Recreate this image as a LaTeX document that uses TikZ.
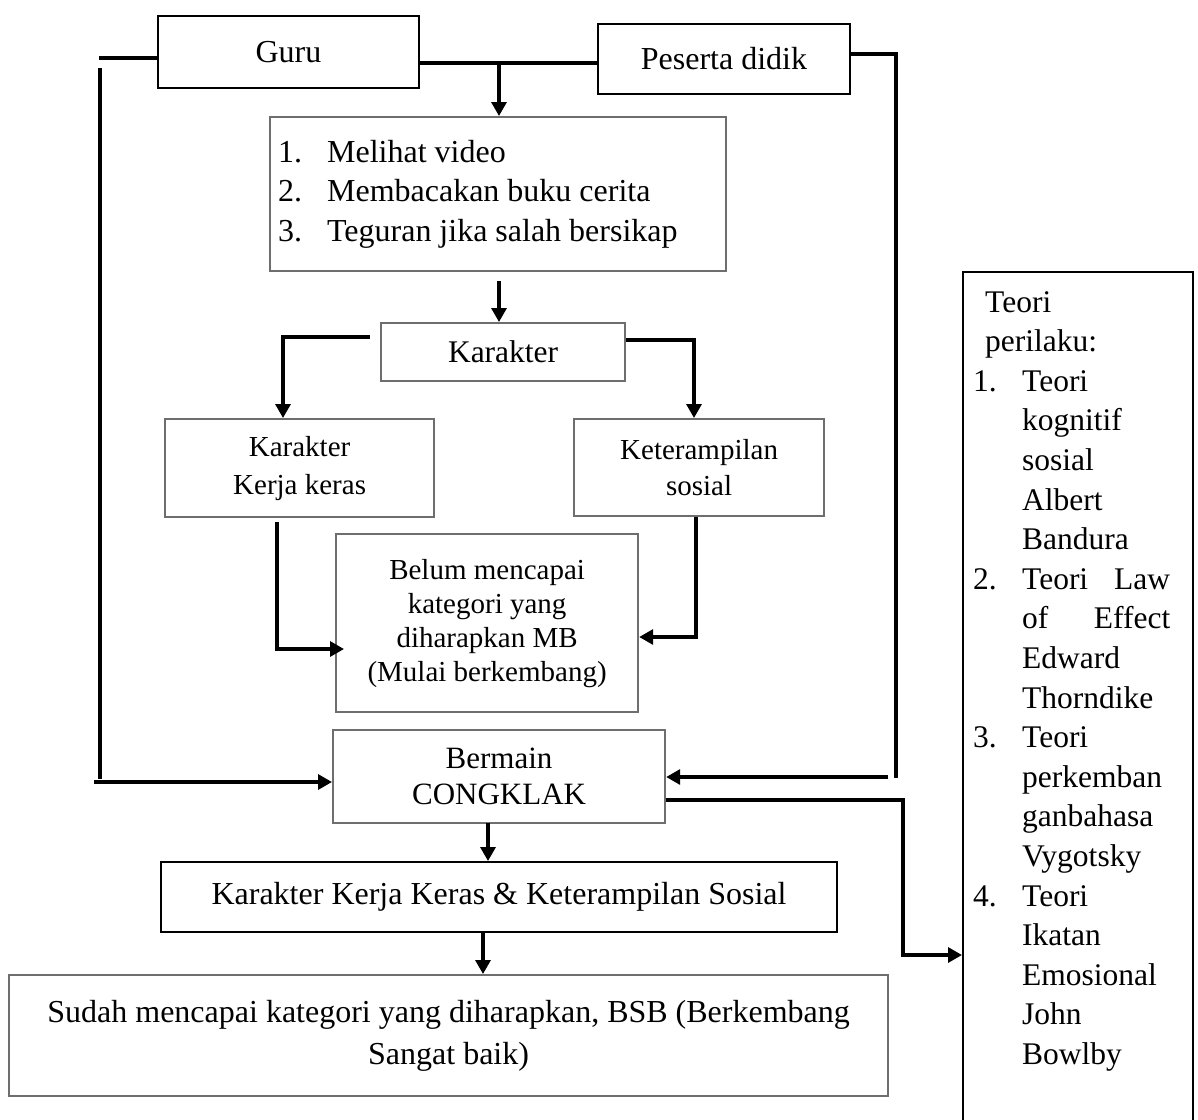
\documentclass[tikz,border=0pt]{standalone}
\usepackage{fontspec}
\setmainfont{Liberation Serif}
\usetikzlibrary{arrows.meta}
\definecolor{boxgray}{HTML}{6E6E6E}
\newcommand{\fs}[2]{\fontsize{#1}{#2}\selectfont}
\begin{document}
\begin{tikzpicture}[x=1pt,y=-1pt,
  blkbox/.style={draw=black, line width=2pt, inner sep=0pt, anchor=north west, align=center},
  grybox/.style={draw=boxgray, line width=2.2pt, inner sep=0pt, anchor=north west, align=center},
  conn/.style={line width=3.2pt},
  arr/.style={conn, -{Triangle[length=14pt,width=15pt]}}]
\useasboundingbox (0,0) rectangle (1198,1119);
\clip (0,0) rectangle (1198,1119);
\fill[white] (0,0) rectangle (1198,1119);

% boxes
\node[blkbox, minimum width=261pt, minimum height=72pt, font=\fs{32}{38}] (guru) at (157,15) {Guru};
\node[blkbox, minimum width=252pt, minimum height=70pt, font=\fs{32}{38}] (peserta) at (597,23) {Peserta didik};
\node[grybox, minimum width=456pt, minimum height=154pt] (list) at (269,116)
  {\parbox{440pt}{\fs{32}{39.6}\raggedright
   \makebox[49pt][l]{1.}Melihat video\\
   \makebox[49pt][l]{2.}Membacakan buku cerita\\
   \makebox[49pt][l]{3.}Teguran jika salah bersikap}};
\node[grybox, minimum width=244pt, minimum height=58pt, font=\fs{31.5}{38}] (karakter) at (380,322) {Karakter};
\node[grybox, minimum width=269pt, minimum height=98pt, font=\fs{29}{38}] (kkk) at (164,418) {Karakter\\Kerja keras};
\node[grybox, minimum width=250pt, minimum height=97pt, font=\fs{29}{36}] (ket) at (573,418) {Keterampilan\\sosial};
\node[grybox, minimum width=302pt, minimum height=178pt, font=\fs{29}{34}] (belum) at (335,533)
  {Belum mencapai\\kategori yang\\diharapkan MB\\(Mulai berkembang)};
\node[grybox, minimum width=332pt, minimum height=93pt, font=\fs{31}{36}] (bermain) at (332,729) {Bermain\\CONGKLAK};
\node[blkbox, minimum width=676pt, minimum height=70pt, font=\fs{32}{38}] (ks) at (160,861)
  {Karakter Kerja Keras \& Keterampilan Sosial};
\node[grybox, minimum width=879pt, minimum height=121pt, font=\fs{32}{42}] (sudah) at (8,974)
  {Sudah mencapai kategori yang diharapkan, BSB (Berkembang\\Sangat baik)};
\node[blkbox, minimum width=230pt, minimum height=900pt] (teori) at (962,271) {};
\node[anchor=base west, inner sep=0pt] (teoritext) at (973,312)
  {\parbox[t]{215pt}{\fs{31.5}{39.6}\raggedright
   \hspace*{12pt}Teori\\
   \hspace*{12pt}perilaku:\\
   \makebox[49pt][l]{1.}Teori\\
   \hspace*{49pt}kognitif\\
   \hspace*{49pt}sosial\\
   \hspace*{49pt}Albert\\
   \hspace*{49pt}Bandura\\
   \makebox[49pt][l]{2.}\makebox[148pt][l]{Teori\hfill Law}\\
   \hspace*{49pt}\makebox[148pt][l]{of\hfill Effect}\\
   \hspace*{49pt}Edward\\
   \hspace*{49pt}Thorndike\\
   \makebox[49pt][l]{3.}Teori\\
   \hspace*{49pt}perkemban\\
   \hspace*{49pt}ganbahasa\\
   \hspace*{49pt}Vygotsky\\
   \makebox[49pt][l]{4.}Teori\\
   \hspace*{49pt}Ikatan\\
   \hspace*{49pt}Emosional\\
   \hspace*{49pt}John\\
   \hspace*{49pt}Bowlby}};

% coordinates for free ends
\coordinate (gL) at (99,58);
\coordinate (vL1) at (100,68);
\coordinate (vL2) at (100,779);
\coordinate (hL) at (94,782);
\coordinate (mid) at (499,63);
\coordinate (pR) at (896,54);
\coordinate (pRb) at (896,778);
\coordinate (hR) at (888,777);
\coordinate (bt1) at (903,800);
\coordinate (bt2) at (903,955);
\coordinate (lk) at (499,281);
\coordinate (kl) at (370,337);
\coordinate (klc) at (283,337);
\coordinate (krc) at (694,340);
\coordinate (kb1) at (277,522);
\coordinate (kb2) at (277,649);
\coordinate (kr2) at (696,637);
\coordinate (bk) at (488,823);
\coordinate (ksd) at (483,933);

% connectors
\draw[conn] (guru.west |- gL) -- (gL);
\draw[conn] (vL1) -- (vL2);
\draw[arr] (hL) -- (bermain.west |- hL);
\draw[conn] (guru.east |- mid) -- (peserta.west |- mid);
\draw[arr] (mid) -- (list.north -| mid);
\draw[conn] (peserta.east |- pR) -- (pR) -- (pRb);
\draw[arr] (hR) -- (bermain.east |- hR);
\draw[arr] (bermain.east |- bt1) -- (bt1) -- (bt2) -- (teori.west |- bt2);
\draw[arr] (lk) -- (karakter.north -| lk);
\draw[arr] (kl) -- (klc) -- (kkk.north -| klc);
\draw[arr] (karakter.east |- krc) -- (krc) -- (ket.north -| krc);
\draw[arr] (kb1) -- (kb2) -- ([xshift=9pt]belum.west |- kb2);
\draw[arr] (ket.south -| kr2) -- (kr2) -- (belum.east |- kr2);
\draw[arr] (bk) -- (ks.north -| bk);
\draw[arr] (ksd) -- (sudah.north -| ksd);
\end{tikzpicture}
\end{document}
